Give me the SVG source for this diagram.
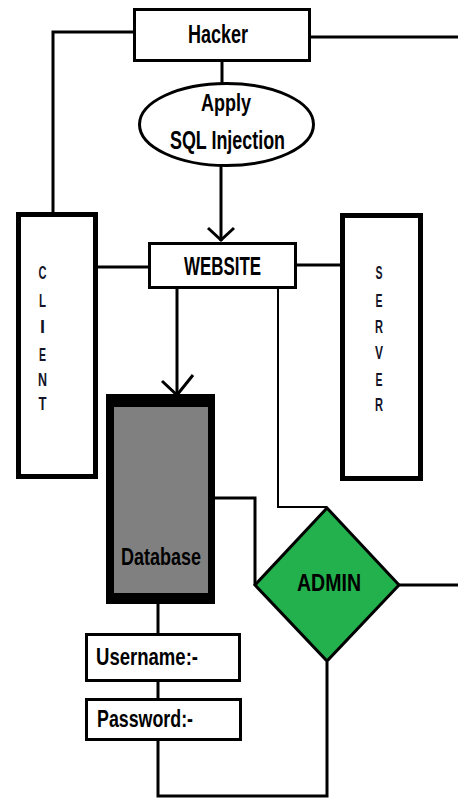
<svg xmlns="http://www.w3.org/2000/svg" width="458" height="798" viewBox="0 0 458 798">
<style>
.t{font-family:"Liberation Sans",Arial,sans-serif;font-weight:bold;fill:#000;lengthAdjust:spacingAndGlyphs}
.box{fill:#fff;stroke:#000;stroke-width:3}
.thick{fill:#fff;stroke:#000;stroke-width:5}
.c{fill:none;stroke:#000;stroke-width:3}
.c2{fill:none;stroke:#000;stroke-width:2}
.l{font-family:"Liberation Sans",Arial,sans-serif;font-weight:bold;font-size:18px;fill:#141428;text-anchor:middle}
</style>
<rect width="458" height="798" fill="#fff"/>
<g id="connectors">
<polyline class="c" points="134,32 53,32 53,213"/>
<polyline class="c" points="310,37 458,37"/>
<line class="c" x1="222" y1="62" x2="222" y2="83"/>
<line class="c" x1="221" y1="166" x2="221" y2="241"/>
<polyline class="c" points="208,228 221,240 234,228"/>
<line class="c" x1="98" y1="267" x2="148" y2="267"/>
<line class="c" x1="296" y1="265" x2="340" y2="265"/>
<line class="c" x1="177" y1="288" x2="177" y2="406"/>
<polyline class="c" points="162,381 177,395 193,375"/>
<polyline class="c2" points="278,288 278,507 327,507"/>
<polyline class="c" points="215,498 255,498 255,585"/>
<line class="c" x1="399" y1="585" x2="458" y2="585"/>
<line class="c" x1="158" y1="604" x2="158" y2="633"/>
<line class="c" x1="158" y1="681" x2="158" y2="698"/>
<polyline class="c" points="158,740 158,796 327,796 327,662"/>
</g>
<g id="hacker">
<rect class="box" x="134.5" y="9.5" width="175" height="51"/>
<text class="t" x="188" y="43" font-size="25" textLength="60" lengthAdjust="spacingAndGlyphs">Hacker</text>
</g>
<g id="sqli">
<ellipse cx="226.5" cy="124.5" rx="87" ry="41" fill="#fff" stroke="#000" stroke-width="3"/>
<text class="t" x="201" y="111" font-size="24" textLength="50" lengthAdjust="spacingAndGlyphs">Apply</text>
<text class="t" x="170" y="149" font-size="25" textLength="115" lengthAdjust="spacingAndGlyphs">SQL Injection</text>
</g>
<g id="website">
<rect class="box" x="149.5" y="243.5" width="146" height="44"/>
<text class="t" x="184" y="275" font-size="25" textLength="77" lengthAdjust="spacingAndGlyphs">WEBSITE</text>
</g>
<g id="client">
<rect class="thick" x="18.5" y="214.5" width="77" height="262"/>
<text class="l" x="42.5" y="279" textLength="8" lengthAdjust="spacingAndGlyphs">C</text>
<text class="l" x="42.5" y="307" textLength="7" lengthAdjust="spacingAndGlyphs">L</text>
<text class="l" x="42.5" y="333">I</text>
<text class="l" x="42.5" y="361" textLength="7" lengthAdjust="spacingAndGlyphs">E</text>
<text class="l" x="42.5" y="386" textLength="9" lengthAdjust="spacingAndGlyphs">N</text>
<text class="l" x="42.5" y="410" textLength="8" lengthAdjust="spacingAndGlyphs">T</text>
</g>
<g id="server">
<rect class="thick" x="342.5" y="215.5" width="78" height="263"/>
<text class="l" x="379" y="279" textLength="7" lengthAdjust="spacingAndGlyphs">S</text>
<text class="l" x="379" y="307" textLength="7" lengthAdjust="spacingAndGlyphs">E</text>
<text class="l" x="379" y="333" textLength="8" lengthAdjust="spacingAndGlyphs">R</text>
<text class="l" x="379" y="359" textLength="8" lengthAdjust="spacingAndGlyphs">V</text>
<text class="l" x="379" y="386" textLength="7" lengthAdjust="spacingAndGlyphs">E</text>
<text class="l" x="379" y="411" textLength="8" lengthAdjust="spacingAndGlyphs">R</text>
</g>
<g id="database">
<rect x="106" y="394" width="109" height="210" fill="#000"/>
<rect x="114" y="407" width="94" height="186" fill="#808080"/>
<text class="t" x="121" y="565" font-size="24" textLength="80" lengthAdjust="spacingAndGlyphs">Database</text>
</g>
<g id="admin">
<polygon points="327,508 399,585 327,661 255,585" fill="#22B14C" stroke="#000" stroke-width="3"/>
<text class="t" x="297" y="591" font-size="24" textLength="64" lengthAdjust="spacingAndGlyphs">ADMIN</text>
</g>
<g id="username">
<rect class="box" x="86.5" y="634.5" width="153" height="46"/>
<text class="t" x="96" y="665" font-size="24" textLength="102" lengthAdjust="spacingAndGlyphs">Username:-</text>
</g>
<g id="password">
<rect class="box" x="86.5" y="699.5" width="154" height="40"/>
<text class="t" x="97" y="727" font-size="24" textLength="96" lengthAdjust="spacingAndGlyphs">Password:-</text>
</g>
</svg>
